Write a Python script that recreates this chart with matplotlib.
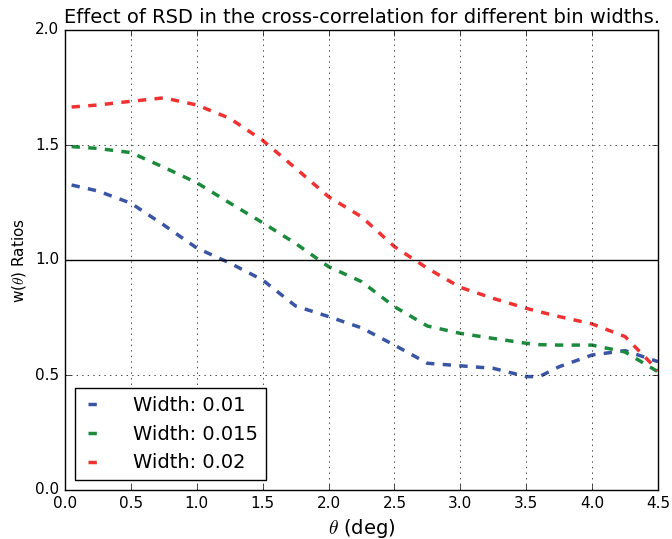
import matplotlib
matplotlib.use("Agg")
import matplotlib.pyplot as plt
import numpy as np

theta = [0.05, 0.25, 0.5, 0.75, 1.0, 1.25, 1.5, 1.75, 2.0, 2.25, 2.5, 2.75, 3.0, 3.25, 3.5, 3.6, 3.75, 4.0, 4.25, 4.5]
w_001 = [1.326, 1.30, 1.247, 1.152, 1.052, 0.987, 0.913, 0.80, 0.754, 0.705, 0.63, 0.551, 0.54, 0.529, 0.493, 0.493, 0.536, 0.587, 0.606, 0.558]
w_0015 = [1.493, 1.485, 1.467, 1.403, 1.336, 1.248, 1.162, 1.072, 0.971, 0.906, 0.797, 0.713, 0.681, 0.659, 0.638, 0.632, 0.630, 0.630, 0.60, 0.514]
w_002 = [1.665, 1.674, 1.69, 1.705, 1.674, 1.616, 1.52, 1.399, 1.275, 1.188, 1.058, 0.964, 0.881, 0.833, 0.79, 0.775, 0.754, 0.722, 0.667, 0.52]
labels = ["Width: 0.01", "Width: 0.015", "Width: 0.02"]
colors = ["#3a55a5", "#1b8a3c", "#f03232"]

plt.style.use("classic")
fig = plt.figure(figsize=(6.72, 5.39), dpi=100)
ax = fig.add_axes([65/672, 49/539, 593/672, 460/539])

for ys, lab, c in zip([w_001, w_0015, w_002], labels, colors):
    ax.plot(theta, ys, ls="--", color=c, lw=2.5, label=lab)

ax.axhline(1.0, color="black", lw=1)
ax.set_xlim(0, 4.5)
ax.set_ylim(0, 2.0)
ax.set_xticks(np.arange(0, 4.51, 0.5))
ax.set_yticks(np.arange(0, 2.01, 0.5))
ax.grid(True)
ax.tick_params(labelsize=11)
ax.set_xlabel(r"$\theta$ (deg)", fontsize=14)
ax.set_ylabel(r"w($\theta$) Ratios", fontsize=11)
ax.set_title("Effect of RSD in the cross-correlation for different bin widths.", fontsize=14)
ax.legend(loc="lower left", fontsize=14, handlelength=1.3, handletextpad=1.3)

fig.savefig("out.png", dpi=100)
